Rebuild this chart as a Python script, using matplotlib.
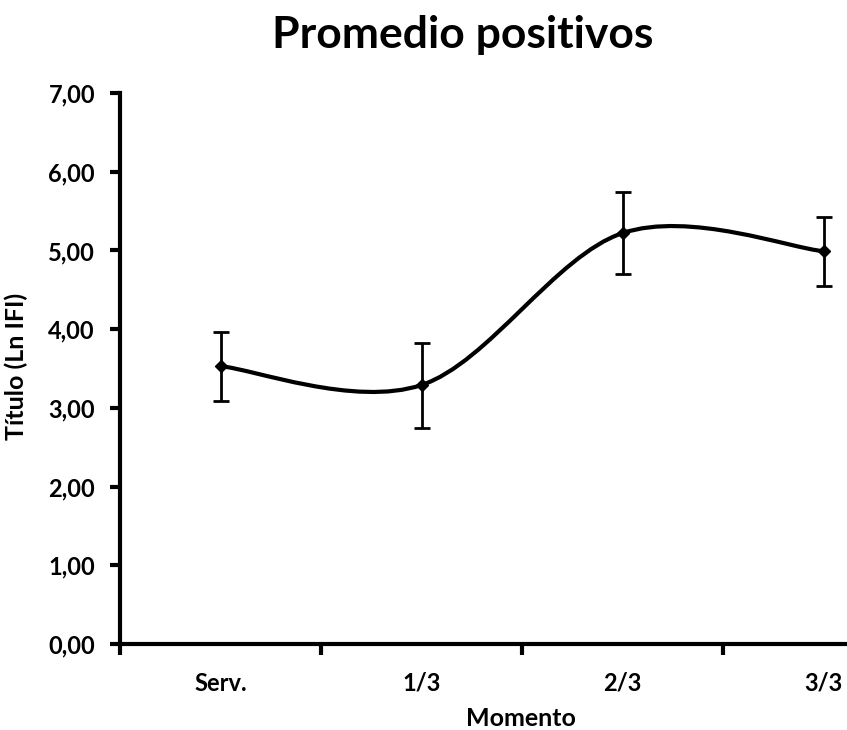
import numpy as np
import matplotlib.pyplot as plt
from matplotlib.path import Path
from matplotlib.patches import PathPatch

plt.rcParams['font.family'] = ['Lato', 'DejaVu Sans']

# data
momentos = ['Serv.', '1/3', '2/3', '3/3']
promedio = [3.53, 3.29, 5.22, 4.99]
error = [0.44, 0.54, 0.52, 0.44]

fig = plt.figure(figsize=(8.47, 7.30), dpi=100)
ax = fig.add_axes([120 / 847, 86 / 730, 804 / 847, 551 / 730])

x = np.arange(len(momentos))
y = np.array(promedio)

# smoothed line like a spreadsheet chart (Bezier through the points)
verts = [(x[0], y[0])]
codes = [Path.MOVETO]
for i in range(len(x) - 1):
    p0 = np.array([x[max(i - 1, 0)], y[max(i - 1, 0)]])
    p1 = np.array([x[i], y[i]])
    p2 = np.array([x[i + 1], y[i + 1]])
    p3 = np.array([x[min(i + 2, len(x) - 1)], y[min(i + 2, len(x) - 1)]])
    c1 = p1 + (p2 - p0) / 6
    c2 = p2 - (p3 - p1) / 6
    verts += [tuple(c1), tuple(c2), tuple(p2)]
    codes += [Path.CURVE4] * 3
ax.add_patch(PathPatch(Path(verts, codes), fill=False, lw=3, color='black', zorder=3))

ax.errorbar(x, y, yerr=error, fmt='none', ecolor='black', elinewidth=2,
            capsize=6, capthick=2, zorder=4)
ax.plot(x, y, linestyle='none', marker='D', markersize=6, color='black', zorder=5)

ax.set_xlim(-0.5, 3.5)
ax.set_ylim(0, 7)
ax.set_yticks(np.arange(0, 8, 1))
ax.set_yticklabels([f'{v:.2f}'.replace('.', ',') for v in range(8)])
ax.set_xticks(np.arange(-0.5, 4, 1))
ax.set_xticklabels([])
ax.set_xticks(x, minor=True)
ax.set_xticklabels(momentos, minor=True)
ax.tick_params(axis='x', which='minor', length=0, pad=20, labelsize=17)
ax.tick_params(axis='x', which='major', length=8, width=3, direction='out')
ax.tick_params(axis='y', length=7, width=3, direction='out', pad=11, labelsize=17)
for lbl in ax.get_xticklabels(minor=True) + ax.get_yticklabels():
    lbl.set_fontweight('bold')

for s in ['top', 'right']:
    ax.spines[s].set_visible(False)
for s in ['left', 'bottom']:
    ax.spines[s].set_linewidth(3)

# axis titles placed like the reference
fig.text(521 / 847, 1 - 719 / 730, 'Momento', fontsize=18, fontweight='bold',
         ha='center', va='center')
fig.text(16 / 847, 1 - 366 / 730, 'Título (Ln IFI)', fontsize=18, fontweight='bold',
         ha='center', va='center', rotation=90)
fig.text(463 / 847, 1 - 35 / 730, 'Promedio positivos', fontsize=32,
         fontweight='bold', ha='center', va='center')

fig.savefig('out.png', dpi=100)
